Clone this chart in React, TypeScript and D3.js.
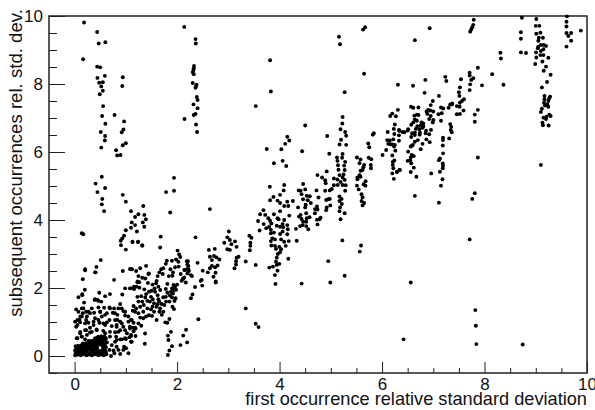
import React from 'react';
import * as d3 from 'd3';

const yMajor = [0, 2, 4, 6, 8, 10];
const yMinor = [-0.5, 0.5, 1, 1.5, 2.5, 3, 3.5, 4.5, 5, 5.5, 6.5, 7, 7.5, 8.5, 9, 9.5];
const xMajor = [0, 2, 4, 6, 8, 10];
const xMinor = [0.5, 1, 1.5, 2.5, 3, 3.5, 4.5, 5, 5.5, 6.5, 7, 7.5, 8.5, 9, 9.5];

type P = [number, number];

// x = first occurrence rsd, y = subsequent occurrences rsd
const denseCorner: P[] = [
  [0.01,0.02],[0.06,0.04],[0.12,0.02],[0.17,0.05],[0.23,0.02],[0.29,0.04],[0.34,0.02],[0.4,0.05],[0.46,0.02],[0.52,0.04],[0.57,0.02],[0.62,0.05],
  [0.02,0.09],[0.08,0.11],[0.14,0.09],[0.2,0.11],[0.26,0.09],[0.32,0.12],[0.37,0.09],[0.43,0.11],[0.49,0.08],[0.55,0.11],[0.61,0.12],
  [0.01,0.16],[0.05,0.18],[0.11,0.16],[0.17,0.18],[0.23,0.16],[0.29,0.19],[0.35,0.17],[0.41,0.18],[0.47,0.15],[0.53,0.16],[0.59,0.19],
  [0.03,0.24],[0.09,0.23],[0.15,0.25],[0.21,0.24],[0.27,0.25],[0.33,0.24],[0.39,0.26],[0.44,0.24],[0.56,0.24],[0.61,0.26],
  [0.02,0.29],[0.07,0.3],[0.13,0.31],[0.19,0.31],[0.25,0.32],[0.31,0.31],[0.37,0.32],[0.43,0.31],[0.48,0.34],[0.54,0.31],[0.59,0.33],
  [0.16,0.37],[0.22,0.38],[0.28,0.37],[0.33,0.38],[0.39,0.39],[0.45,0.38],[0.51,0.39],[0.57,0.38],[0.63,0.4],
  [0.27,0.44],[0.32,0.44],[0.37,0.46],[0.42,0.45],[0.48,0.46],[0.54,0.45],[0.6,0.47],
  [0.4,0.52],[0.45,0.53],[0.5,0.52],[0.55,0.53],[0.61,0.52],[0.46,0.57],[0.52,0.58],[0.58,0.57],
  [0.05,0.13],[0.1,0.2],[0.04,0.21],[0.24,0.28],[0.35,0.28],[0.44,0.41],
];

const lowRamp: P[] = [
  [0.205,2.52],[0.4,2.46],[0.16,2.26],[0.77,2.24],[0.15,1.82],[0.075,1.73],[0.48,1.86],[0.4,1.67],[0.445,1.65],[0.52,1.6],[0.595,1.76],[0.69,1.82],
  [0.93,1.81],[0.985,1.99],[1.08,1.99],[1.16,2.04],[1.225,2.17],[0.185,1.57],[0.03,1.37],[0.14,1.4],[0.225,1.3],[0.16,1.26],[0.11,1.16],[0.335,1.4],
  [0.465,1.43],[0.575,1.42],[0.68,1.43],[0.77,1.4],[0.89,1.53],[0.92,1.4],[0.985,1.3],[0.3,1.26],[0.38,1.27],[0.5,1.3],[0.63,1.26],[0.745,1.27],
  [0.835,1.21],[0.01,1.01],[0.095,1.06],[0.055,0.91],[0.24,1.16],[0.4,1.11],[0.53,1.16],[0.68,1.06],[0.79,1.06],[0.89,1.01],[1.05,1.16],[1.115,1.06],
  [0.205,0.96],[0.27,0.98],[0.37,0.91],[0.485,0.98],[0.595,0.91],[0.725,0.88],[0.82,0.91],[0.95,0.86],[1.08,0.86],[1.245,0.96],[0.11,0.71],[0.225,0.76],
  [0.3,0.69],[0.43,0.78],[0.56,0.74],[0.69,0.71],[0.855,0.71],[1.02,0.67],[1.15,0.73],[0.04,0.52],[0.14,0.57],[0.205,0.49],[1.1,0.59],[0.985,0.52],
  [0.89,0.49],[1.115,0.42],[1.005,0.23],[1.05,0.08],[0.95,0.18],[0.82,0.27],[0.855,0.18],[0.775,0.08],[0.68,0.18],[0.725,0.32],[0.82,0.47],[0.76,0.16],
  [0.71,0.0],[0.89,0.06],[0.965,0.27],[1.0,0.5],[0.92,0.49],[1.19,0.81],[1.07,0.55],[1.19,0.59],[0.205,2.55],[0.425,2.62],[0.41,2.46],[0.51,2.82],
  [0.2,1.95],[0.15,1.79],[0.39,1.65],[0.465,1.62],[0.94,2.5],[1.08,2.56],[1.12,2.55],[1.21,2.04],[0.14,3.61],[0.17,3.58],
];

const lowRampFill: P[] = [
  [0.03,0.86],[0.107,0.99],[0.055,1.06],[0.14,1.16],[0.075,1.3],[0.17,1.4],[0.27,1.3],[0.225,1.06],[0.3,0.83],[0.37,1.01],[0.465,1.06],[0.56,0.96],
  [0.63,0.99],[0.5,1.3],[0.595,1.21],[0.69,1.4],[0.79,1.26],[0.835,1.06],[0.92,0.96],[0.82,0.86],[1.05,1.01],[0.985,1.19],[0.855,1.4],[0.95,1.32],
  [0.107,0.67],[0.205,0.76],[0.055,0.52],[0.14,0.57],[0.79,0.7],[0.89,0.76],[0.985,0.76],[1.15,0.83],[0.81,0.57],[0.69,0.57],[0.79,0.42],[0.595,0.67],
  [0.43,0.76],[0.335,0.71],[0.24,0.62],
  [1.52,1.45],[1.55,1.55],[1.42,1.62],[1.5,1.92],[1.52,2.1],[1.43,2.15],[1.38,2.28],[1.6,1.45],[1.65,1.6],[1.62,1.52],[1.55,1.3],[1.45,1.2],[1.35,1.5],
  [1.38,1.72],[1.9,1.72],[1.86,1.78],[1.98,1.95],[2.0,2.1],[1.84,2.35],[1.87,2.55],
];

const midRamp: P[] = [
  [1.13,3.36],[1.24,3.36],[1.32,3.26],[1.67,3.19],[2.01,3.1],[2.04,2.99],[1.98,2.84],[1.9,2.8],[1.8,2.8],[1.78,2.71],[2.025,2.77],[2.22,2.65],
  [1.96,2.61],[2.03,2.63],[2.22,2.55],[1.73,2.58],[1.69,2.55],[1.655,2.46],[1.72,2.41],[1.92,2.46],[1.91,2.36],[2.07,2.41],[2.16,2.53],[2.27,2.38],
  [2.12,2.28],[2.09,2.21],[2.17,2.16],[1.62,2.35],[1.6,2.21],[1.81,2.12],[1.93,2.09],[1.96,2.04],[1.9,1.99],[1.94,1.94],[1.88,1.89],[1.92,1.84],
  [1.59,2.14],[1.56,1.99],[1.635,2.04],[1.67,1.94],[1.78,1.97],[1.81,1.86],[1.57,1.89],[1.62,1.79],[1.635,1.67],[1.73,1.73],[1.78,1.74],[1.85,1.6],
  [1.95,1.62],[1.97,1.7],[1.91,1.45],[1.94,1.38],[1.7,1.53],[1.75,1.5],[1.785,1.6],[1.67,1.4],[1.655,1.3],[1.73,1.3],[1.7,1.21],[1.85,1.09],
  [1.77,0.99],[1.81,0.98],[2.415,1.08],[1.45,2.43],[1.395,2.65],[1.28,2.58],[1.2,2.5],[1.1,2.55],[1.245,2.35],[1.32,2.3],[1.23,2.19],[1.16,1.97],
  [1.1,1.99],[1.265,2.01],[1.36,1.96],[1.45,1.89],[1.395,1.82],[1.49,1.74],[1.3,1.76],[1.225,1.74],[1.245,1.6],[1.32,1.6],[1.47,1.6],[1.525,1.67],
  [1.15,1.47],[1.2,1.4],[1.28,1.45],[1.135,1.33],[1.18,1.3],[1.245,1.26],[1.34,1.3],[1.42,1.4],[1.49,1.37],[1.51,1.18],[1.34,1.11],[1.395,1.16],
  [1.28,1.13],[1.6,1.06],[1.1,1.06],[1.15,0.98],[1.3,0.89],[1.08,0.81],[1.18,0.83],[1.1,0.62],[1.1,0.42],[1.44,2.41],[1.26,2.17],
  [2.19,2.79],[2.21,2.79],[2.4,2.74],[2.06,2.91],[2.2,2.69],[2.14,2.53],[2.2,2.56],[2.23,2.5],[2.2,2.43],[2.14,2.31],[2.11,2.26],[2.29,2.35],
  [2.48,2.24],[2.35,2.03],[2.3,1.81],[2.27,1.7],
];

const dropColumn: P[] = [
  [1.88,0.71],[1.82,0.6],[1.83,0.47],[1.9,0.29],[1.85,0.16],[1.82,0.03],[2.175,0.77],[2.12,0.6],[2.195,0.4],[2.065,0.32],[1.375,0.66],[1.37,0.36],
];

const upperStrand: P[] = [
  [0.575,4.26],[1.1,4.26],[1.34,4.41],[1.245,4.17],[1.18,4.09],[1.36,4.15],[1.39,4.02],[1.33,3.93],[1.36,3.8],[1.115,3.93],[1.18,3.85],[1.1,3.77],
  [1.0,3.7],[1.215,3.66],[0.965,3.54],[0.93,3.46],[0.9,3.39],[0.905,3.26],[1.0,3.13],[1.13,3.35],[1.235,3.35],[1.32,3.24],[1.68,3.51],[1.865,4.22],
  [2.36,3.49],
];

const topLeftColumns: P[] = [
  [0.185,9.81],[0.44,9.53],[0.47,9.19],[0.6,9.23],[0.166,8.73],[0.44,8.51],[0.5,8.49],[0.59,8.24],[0.445,8.18],[0.48,8.04],[0.55,8.05],[0.52,7.93],
  [0.55,7.8],[0.49,7.7],[0.94,8.2],[0.93,7.94],[0.556,7.35],[0.537,7.06],[0.6,6.83],[0.51,6.59],[0.595,6.47],[0.59,6.34],[0.52,6.13],[0.78,7.09],
  [0.966,6.9],[0.953,6.66],[0.92,6.58],[1.0,6.26],[0.94,6.2],[0.81,6.05],[0.83,5.9],[0.895,5.91],[0.53,5.27],[0.41,5.07],[0.595,4.94],[0.445,4.82],
  [0.54,4.62],[0.53,4.46],[0.94,4.74],[1.0,4.54],[1.94,5.24],[1.785,4.82],[1.94,4.86],
  [2.14,9.68],[2.36,9.32],[2.365,9.19],[2.33,8.53],[2.325,8.46],[2.32,8.41],[2.305,8.35],[2.325,8.29],[2.305,8.03],[2.38,7.98],[2.37,7.94],[2.36,7.89],
  [2.385,7.62],[2.4,7.53],[2.32,7.4],[2.4,7.29],[2.36,7.12],[2.325,7.09],[2.145,6.97],[2.37,6.81],[2.39,6.59],[3.535,7.35],
];

const scatteredHigh: P[] = [
  [5.67,9.67],[5.63,9.6],[5.16,9.39],[5.18,9.17],[3.815,8.7],[5.65,8.3],[6.31,7.98],[3.83,7.78],[5.27,7.76],[5.23,7.03],[5.225,6.84],[5.19,6.67],[4.5,6.78],
  [7.79,9.89],[7.78,9.74],[7.76,9.67],[7.74,9.6],[7.72,9.54],[6.93,9.64],[6.64,9.29],[8.31,8.92],[8.32,8.75],[8.15,8.29],[8.37,7.98],[6.605,7.95],
  [7.87,8.48],[7.95,7.96],[2.64,4.32],
];

const band3to5: P[] = [
  [3.685,4.29],[3.62,4.17],[3.72,4.15],[3.58,3.97],[3.69,3.88],[3.78,4.05],[3.815,3.98],[3.89,4.17],[4.01,4.26],[3.96,4.05],[3.98,4.02],[3.84,3.9],
  [4.19,4.13],[4.09,4.0],[4.06,3.88],[4.15,3.85],[3.945,3.83],[4.01,3.8],[3.8,3.8],[3.74,3.76],[3.83,3.71],[3.61,3.69],[4.07,3.79],[4.16,3.73],
  [3.83,3.61],[3.89,3.63],[4.06,3.66],[4.15,3.58],[4.01,3.59],[3.86,3.46],[3.91,3.43],[4.03,3.43],[3.83,3.38],[4.18,3.38],[4.09,3.36],[3.84,3.25],
  [3.91,3.24],[3.995,3.21],[4.12,3.24],[4.335,3.39],[3.93,3.15],[4.03,3.14],[4.01,3.05],[3.965,3.0],[3.945,2.89],[4.17,2.86],[3.93,2.77],[3.995,2.71],
  [3.945,2.68],[3.87,2.63],[3.8,2.6],[3.96,2.51],[3.91,2.38],[4.32,3.74],[4.4,3.82],[4.38,4.1],[4.41,4.15],[4.52,4.2],[4.585,4.08],[4.43,4.03],
  [4.53,4.05],[4.46,3.95],[4.52,3.95],[4.45,3.85],[4.52,3.82],[4.56,3.73],[3.01,3.66],[2.98,3.49],[3.03,3.41],[2.92,3.33],[3.13,3.37],[3.06,3.29],
  [3.16,3.21],[2.98,3.14],[3.03,3.12],[3.41,3.54],[3.45,3.48],[3.43,3.33],[3.43,3.24],[3.42,3.11],[3.2,2.92],[3.16,2.89],[3.15,2.79],[3.15,2.69],
  [3.12,2.58],[3.34,2.78],[3.535,2.68],[2.62,3.12],[2.735,3.15],[2.64,2.92],[2.72,2.94],[2.77,2.9],[2.825,2.84],[2.68,2.82],[2.68,2.65],[2.79,2.66],
  [2.74,2.61],[2.64,2.58],[2.5,2.51],[2.6,2.46],[2.75,2.45],[2.71,2.33],[2.755,2.19],[2.755,2.16],[2.46,2.21],[2.49,2.07],
  [3.34,1.4],[3.535,0.95],[3.59,0.85],
];

const band4to6: P[] = [
  [5.28,6.59],[5.3,6.48],[4.93,6.47],[4.15,6.45],[4.19,6.34],[4.11,6.24],[4.035,6.08],[3.75,6.09],[4.44,6.02],[5.2,6.36],[5.17,6.22],[5.3,6.21],
  [4.97,5.95],[5.23,5.94],[5.22,5.83],[5.12,5.84],[5.13,5.74],[4.06,5.74],[3.89,5.67],[4.13,5.59],[5.28,5.71],[5.26,5.6],[5.14,5.61],[5.15,5.48],
  [5.27,5.47],[4.92,5.43],[4.74,5.32],[4.83,5.25],[4.89,5.17],[4.9,5.08],[5.25,5.34],[5.17,5.32],[5.06,5.22],[5.13,5.19],[5.23,5.25],[5.27,5.18],
  [5.19,5.12],[5.23,5.03],[5.29,5.02],[5.135,5.03],[5.06,5.02],[5.02,4.91],[4.98,4.87],[4.89,4.86],[4.72,4.87],[5.28,4.86],[4.09,5.03],[3.81,4.98],
  [4.08,4.87],[4.41,4.86],[4.46,5.06],[4.5,4.9],[4.375,4.87],[4.01,4.74],[3.88,4.68],[3.815,4.58],[3.96,4.57],[4.01,4.5],[4.15,4.54],[4.26,4.56],
  [4.17,4.41],[4.09,4.41],[4.43,4.76],[4.53,4.71],[4.59,4.7],[4.46,4.61],[4.55,4.58],[4.61,4.5],[4.51,4.45],[4.36,4.37],[4.5,4.37],[4.76,4.66],
  [4.73,4.4],[4.69,4.32],[4.74,4.31],[4.69,4.2],[4.8,4.07],[4.73,4.01],[4.78,4.02],[4.74,3.87],[4.91,4.59],[4.98,4.62],[4.95,4.61],[4.99,4.43],
  [4.92,4.37],[4.91,4.29],[5.17,4.69],[5.21,4.62],[5.17,4.56],[5.215,4.47],[5.18,4.37],[5.17,4.26],[5.27,4.2],[5.19,4.02],
  [5.51,5.84],[5.58,5.78],[5.56,5.67],[5.65,5.62],[5.635,5.55],[5.58,5.45],[5.62,5.47],[5.56,5.32],[5.52,5.25],[5.58,5.27],[5.52,5.2],[5.68,5.14],
  [5.64,5.05],[5.675,5.01],[5.51,5.01],[5.545,4.9],[5.6,4.76],[5.62,4.67],[5.6,4.56],[5.65,4.5],[5.62,4.43],[5.59,3.25],[5.565,3.07],[5.27,2.36],
  [5.225,3.4],[4.95,2.79],[4.99,2.16],[4.43,2.13],[3.92,2.12],[6.01,5.91],[5.75,6.14],[5.73,6.25],[5.82,6.51],[5.84,6.55],[5.74,5.83],[5.79,5.79],
  [5.78,5.62],[5.785,5.52],
];

const band6to8: P[] = [
  [6.31,7.24],[6.2,7.13],[6.16,7.06],[6.27,7.05],[6.25,6.81],[6.23,6.68],[6.33,6.65],[6.51,6.67],[6.11,6.59],[6.24,6.53],[6.34,6.62],[6.1,6.35],
  [6.22,6.37],[6.16,6.23],[6.12,6.24],[6.2,6.22],[6.25,6.21],[6.33,6.49],[6.33,6.33],[6.235,6.16],[6.08,6.06],[6.26,6.04],[6.21,5.71],[6.21,5.62],
  [6.22,5.52],[6.29,5.42],[6.2,5.37],[6.23,5.21],[6.34,5.47],[6.15,6.34],[6.2,5.9],[6.24,5.75],
  [7.71,8.33],[7.71,8.25],[7.78,8.17],[7.74,8.12],[7.72,7.99],[7.235,8.21],[7.255,8.09],[7.54,8.14],[7.52,7.9],[7.71,7.82],[7.5,7.76],[7.51,7.65],
  [6.845,8.12],[6.83,7.74],[7.11,7.65],[6.99,7.5],[6.95,7.38],[7.6,7.55],[7.56,7.5],[7.52,7.45],[7.365,7.4],[7.46,7.35],[7.515,7.33],[7.59,7.22],
  [7.87,7.24],[7.81,7.1],[7.81,6.89],[7.87,5.84],[7.33,7.4],[7.37,7.43],[7.3,7.3],[7.15,7.31],[7.195,7.28],[6.9,7.24],[6.94,7.22],[7.0,7.19],
  [6.87,7.19],[6.565,7.33],[6.61,7.3],[6.71,7.31],[6.68,7.1],[6.63,7.07],[6.71,7.09],[6.885,7.12],[6.95,7.06],[7.1,7.11],[7.165,7.14],[7.15,6.92],
  [7.0,6.94],[6.92,6.97],[6.99,6.87],[6.64,6.96],[6.68,6.92],[6.61,6.87],[6.57,6.8],[6.805,6.84],[6.77,6.87],[6.755,6.78],[6.805,6.76],[6.69,6.76],
  [6.4,6.59],[6.435,6.58],[6.5,6.63],[6.66,6.68],[6.585,6.55],[6.64,6.57],[6.73,6.67],[6.74,6.57],[6.79,6.71],[6.86,6.63],[6.85,6.55],[6.92,6.52],
  [6.955,6.65],[7.33,6.82],[7.35,6.74],[7.34,6.65],[7.36,6.58],[7.52,7.12],[7.46,7.11],[7.31,6.4],
  [7.19,6.42],[7.19,6.35],[7.185,6.19],[7.19,5.96],[7.13,5.81],[7.11,5.76],[7.185,5.66],[7.19,5.6],[7.185,5.52],[7.13,5.42],[7.18,5.2],[7.15,5.01],
  [6.96,5.37],[6.64,4.71],[7.11,4.51],[7.81,4.79],[7.76,4.62],[6.67,5.27],[6.56,5.41],[6.62,5.54],[6.57,5.67],[6.5,5.74],[6.62,5.88],[6.58,5.91],
  [6.56,5.84],[6.51,6.01],[6.56,6.16],[6.58,6.18],[6.64,6.3],[6.7,6.35],[6.755,6.08],[6.79,6.24],[6.93,6.29],[6.865,6.37],[6.735,6.51],[6.64,6.5],
  [6.57,6.44],[6.6,6.21],[6.55,5.76],[6.35,5.47],[6.29,5.41],
  [7.71,3.43],[6.56,2.16],[7.82,1.35],[7.83,0.89],[7.84,0.35],[8.745,0.34],[6.42,0.49],
];

const topRight: P[] = [
  [8.73,9.95],[9.01,9.91],[9.61,9.99],[9.6,9.83],[9.6,9.69],[9.6,9.5],[9.69,9.5],[9.635,9.41],[9.69,9.27],[9.6,9.1],[9.88,9.57],[8.71,9.52],
  [8.71,9.33],[8.71,8.93],[8.81,8.91],[9.0,9.71],[9.07,9.71],[9.01,9.48],[9.09,9.51],[9.14,9.36],[9.06,9.36],[9.05,9.27],[9.1,9.15],[9.155,9.15],
  [9.2,9.12],[9.05,9.1],[9.04,9.05],[9.15,9.02],[9.1,8.97],[9.005,8.93],[9.09,8.85],[9.15,8.85],[9.01,8.78],[9.245,8.77],[9.13,8.66],[8.99,8.59],
  [9.2,8.51],[9.155,8.39],[9.29,8.27],[9.22,8.06],[9.12,7.9],[9.1,5.62],
  [9.17,7.65],[9.28,7.63],[9.26,7.57],[9.17,7.55],[9.245,7.5],[9.16,7.45],[9.225,7.4],[9.18,7.37],[9.245,7.33],[9.12,7.27],[9.1,7.18],[9.265,7.1],
  [9.29,7.06],[9.21,7.04],[9.15,7.01],[9.2,6.97],[9.13,6.86],[9.14,6.79],[9.25,6.78],
];

const allPoints: P[] = [
  ...denseCorner, ...lowRamp, ...lowRampFill, ...midRamp, ...dropColumn, ...upperStrand, ...topLeftColumns,
  ...scatteredHigh, ...band3to5, ...band4to6, ...band6to8, ...topRight,
];

const margin = { top: 16, right: 8, bottom: 37, left: 49 };
const width = 595;
const height = 410;
const font = '"Liberation Sans", Arial, sans-serif';
const axisColor = '#222';

const styleAxis = (g: d3.Selection<SVGGElement, unknown, null, undefined>) => {
  g.select('.domain').remove();
  g.selectAll('line').attr('stroke', axisColor).attr('stroke-width', 1);
  g.selectAll('text').attr('fill', '#111').style('font-family', font).style('font-size', '17px');
};

export default function App() {
  const xRef = React.useRef<SVGGElement>(null);
  const yRef = React.useRef<SVGGElement>(null);
  const xMinorRef = React.useRef<SVGGElement>(null);
  const yMinorRef = React.useRef<SVGGElement>(null);

  const x = d3.scaleLinear().domain([-0.5, 10]).range([margin.left, width - margin.right]);
  const y = d3.scaleLinear().domain([-0.5, 10]).range([height - margin.bottom, margin.top]);

  React.useEffect(() => {
    d3.select(xRef.current!)
      .call(d3.axisBottom(x).tickValues(xMajor).tickSize(-11).tickPadding(5).tickFormat(d3.format('d') as any))
      .call(styleAxis as any);
    d3.select(xMinorRef.current!)
      .call(d3.axisBottom(x).tickValues(xMinor).tickSize(-5).tickFormat(() => ''))
      .call(styleAxis as any);
    d3.select(yRef.current!)
      .call(d3.axisLeft(y).tickValues(yMajor).tickSize(-16).tickPadding(6).tickFormat(d3.format('d') as any))
      .call(styleAxis as any);
    d3.select(yMinorRef.current!)
      .call(d3.axisLeft(y).tickValues(yMinor).tickSize(-8).tickFormat(() => ''))
      .call(styleAxis as any);
  }, []);

  return (
    <svg width={width} height={height} style={{ position: 'absolute', left: 0, top: 0, background: '#fff' }}>
      <g ref={xRef} transform={`translate(0,${height - margin.bottom})`} />
      <g ref={xMinorRef} transform={`translate(0,${height - margin.bottom})`} />
      <g ref={yRef} transform={`translate(${margin.left},0)`} />
      <g ref={yMinorRef} transform={`translate(${margin.left},0)`} />
      <rect
        x={margin.left}
        y={margin.top}
        width={width - margin.left - margin.right}
        height={height - margin.top - margin.bottom}
        fill="none"
        stroke={axisColor}
        strokeWidth={1.5}
      />
      <g>
        {allPoints.map((d, i) => (
          <circle key={i} cx={x(d[0])} cy={y(d[1])} r={1.95} fill="#000" />
        ))}
      </g>
      <text
        transform="translate(22,163) rotate(-90)"
        textAnchor="middle"
        fontFamily={font}
        fontSize={18.6}
        fill="#111"
      >
        subsequent occurrences rel. std. dev.
      </text>
      <text x={587} y={405} textAnchor="end" fontFamily={font} fontSize={18.2} fill="#111">
        first occurrence relative standard deviation
      </text>
    </svg>
  );
}
